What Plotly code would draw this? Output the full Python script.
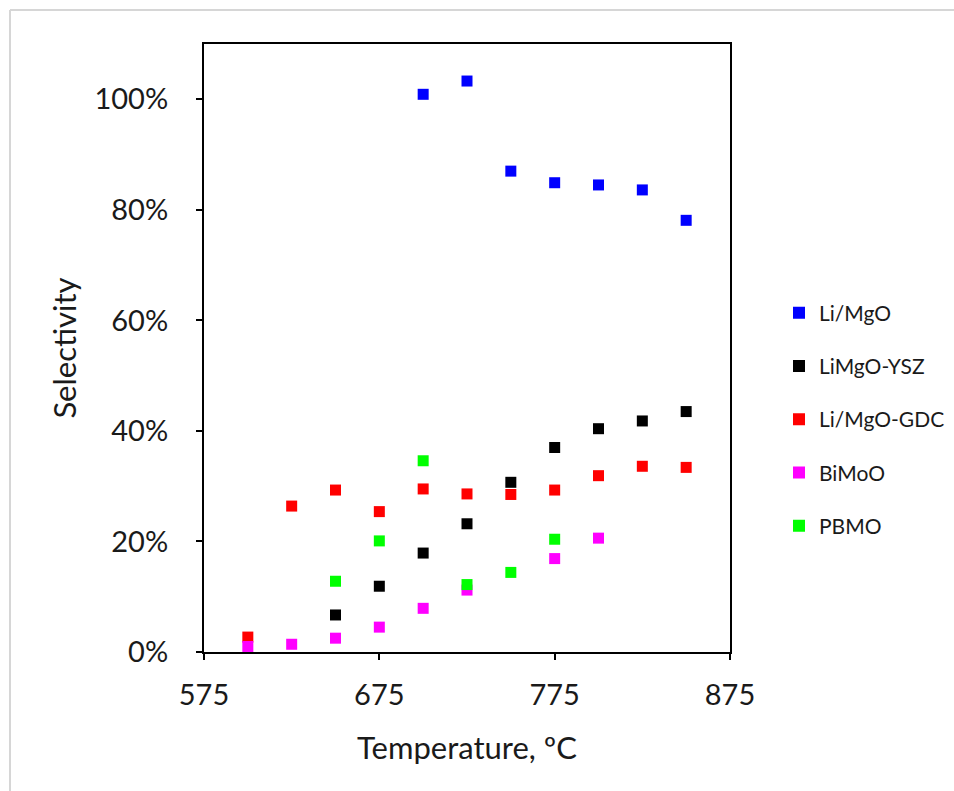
import plotly.graph_objects as go

# Reactor temperature (ºC) for each measurement
temps = [600, 625, 650, 675, 700, 725, 750, 775, 800, 825, 850]

# Selectivity per catalyst (fraction), None where not measured
li_mgo = [None, None, None, None, 1.009, 1.033, 0.870, 0.849, 0.845, 0.836, 0.781]
limgo_ysz = [None, None, 0.067, 0.119, 0.179, 0.232, 0.307, 0.370, 0.404, 0.418, 0.435]
li_mgo_gdc = [0.027, 0.264, 0.293, 0.254, 0.295, 0.286, 0.285, 0.293, 0.319, 0.336, 0.334]
bimoo = [0.010, 0.014, 0.025, 0.045, 0.079, 0.112, None, 0.169, 0.206, None, None]
pbmo = [None, None, 0.128, 0.201, 0.346, 0.122, 0.144, 0.204, None, None, None]

series = [
    ("Li/MgO", li_mgo, "#0000FF"),
    ("LiMgO-YSZ", limgo_ysz, "#000000"),
    ("Li/MgO-GDC", li_mgo_gdc, "#FF0000"),
    ("BiMoO", bimoo, "#FF00FF"),
    ("PBMO", pbmo, "#00FF00"),
]

x_ticks = [575, 675, 775, 875]
y_ticks = [0, 0.2, 0.4, 0.6, 0.8, 1.0]

FONT = "Lato, 'Open Sans', sans-serif"
TEXT = "#1a1a1a"

fig = go.Figure()
for name, vals, color in series:
    xs = [t for t, v in zip(temps, vals) if v is not None]
    ys = [v for v in vals if v is not None]
    fig.add_trace(go.Scatter(
        x=xs, y=ys, mode="markers", name=name, legendgroup=name,
        marker=dict(symbol="square", size=11, color=color, line=dict(width=0)),
    ))

L, R, T, B = 204, 224, 44, 139
W, H = 954, 791
pw, ph = W - L - R, H - T - B

fig.update_layout(
    width=W, height=H,
    margin=dict(l=L, r=R, t=T, b=B, autoexpand=False),
    paper_bgcolor="white", plot_bgcolor="white",
    font=dict(family=FONT, color=TEXT),
    showlegend=True,
    legend=dict(
        x=(779 - L) / pw, xanchor="left",
        y=(H - B - 419.5) / ph, yanchor="middle",
        font=dict(size=21, family=FONT, color=TEXT),
        tracegroupgap=23, bgcolor="rgba(0,0,0,0)",
        itemsizing="constant",
    ),
    xaxis=dict(
        range=[575, 875], tickvals=x_ticks, ticktext=[str(v) for v in x_ticks],
        showgrid=False, zeroline=False,
        showline=True, linecolor="black", linewidth=2, mirror=True,
        ticks="outside", ticklen=6, tickwidth=2, tickcolor="black",
        ticklabelstandoff=10,
        tickfont=dict(size=29, family=FONT, color=TEXT),
        title=dict(text="Temperature, ºC", font=dict(size=31, family=FONT, color=TEXT), standoff=28),
    ),
    yaxis=dict(
        range=[0, 1.1], tickvals=y_ticks, tickformat=".0%",
        showgrid=False, zeroline=False,
        showline=True, linecolor="black", linewidth=2, mirror=True,
        ticks="outside", ticklen=6, tickwidth=2, tickcolor="black",
        ticklabelstandoff=22,
        tickfont=dict(size=29, family=FONT, color=TEXT),
        title=dict(text="Selectivity", font=dict(size=31, family=FONT, color=TEXT), standoff=9),
    ),
    shapes=[
        # light frame around the chart area
        dict(type="line", xref="paper", yref="paper",
             x0=(10 - L) / pw, x1=(W + 10 - L) / pw,
             y0=(H - B - 10) / ph, y1=(H - B - 10) / ph,
             line=dict(color="#d6d6d6", width=2)),
        dict(type="line", xref="paper", yref="paper",
             x0=(10 - L) / pw, x1=(10 - L) / pw,
             y0=(H - B - 10) / ph, y1=(H - B - H - 10) / ph,
             line=dict(color="#d6d6d6", width=2)),
    ],
)

fig.write_html("out.html")
